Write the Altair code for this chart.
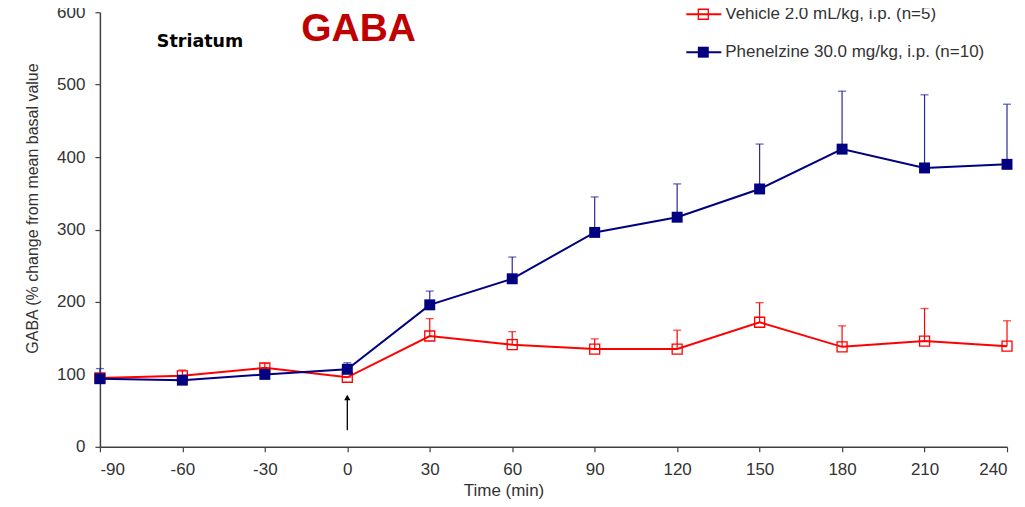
import altair as alt
import pandas as pd

# ---- data ----
times = [-90, -60, -30, 0, 30, 60, 90, 120, 150, 180, 210, 240]
vehicle_mean = [95, 98, 109, 96, 153, 141, 135, 135, 172, 138, 146, 139]
vehicle_upper = [95, 106, 115, 96, 177, 159, 149, 161, 199, 167, 191, 174]
phenelzine_mean = [94, 92, 100, 107, 196, 232, 296, 317, 356, 411, 385, 390]
phenelzine_upper = [108, 92, 100, 116, 215, 262, 345, 363, 418, 491, 486, 473]
series_names = ["Vehicle 2.0 mL/kg, i.p. (n=5)", "Phenelzine 30.0 mg/kg, i.p. (n=10)"]
x_ticks = [-90, -60, -30, 0, 30, 60, 90, 120, 150, 180, 210, 240]
y_ticks = [0, 100, 200, 300, 400, 500, 600]
arrow_time = [0]
arrow_from = [23]
arrow_to = [68]

RED = "#FF0000"
NAVY = "#000080"
FONT = "Liberation Sans"

veh = pd.DataFrame({"time": times, "mean": vehicle_mean, "upper": vehicle_upper})
phe = pd.DataFrame({"time": times, "mean": phenelzine_mean, "upper": phenelzine_upper})
arrow = pd.DataFrame({"time": arrow_time, "y0": arrow_from, "y1": arrow_to})
legend_df = pd.DataFrame({"series": series_names})
one = pd.DataFrame({"k": [0]})

x_enc = alt.X(
    "time:Q",
    scale=alt.Scale(domain=[-90, 240], nice=False, zero=False),
    axis=alt.Axis(
        values=x_ticks, title="Time (min)", grid=False,
        labelExpr="datum.value + ''",
        titleX=404, titleY=49, titleBaseline="alphabetic", titleFontSize=17,
    ),
)
y_enc = alt.Y(
    "mean:Q",
    scale=alt.Scale(domain=[0, 600], nice=False),
    axis=alt.Axis(
        values=y_ticks, title="GABA (% change from mean basal value", grid=False,
        labelExpr="datum.value + ''",
        titleX=-62, titleY=196, titleBaseline="alphabetic",
    ),
)


def series_layers(df, color, err_color, filled):
    base = alt.Chart(df)
    stem = base.mark_rule(color=err_color, strokeWidth=1.2).encode(
        x=x_enc, y=y_enc, y2="upper:Q")
    cap = base.mark_tick(orient="horizontal", size=8, thickness=1.3,
                         color=err_color).encode(x=x_enc, y="upper:Q")
    line = base.mark_line(color=color, strokeWidth=2).encode(x=x_enc, y=y_enc)
    if filled:
        pts = base.mark_point(shape="square", filled=True, fill=color,
                              color=color, size=120, opacity=1).encode(x=x_enc, y=y_enc)
    else:
        pts = base.mark_point(shape="square", filled=False, color=color,
                              strokeWidth=1.3, size=100, opacity=1).encode(x=x_enc, y=y_enc)
    return [stem, cap, line, pts]


layers = []
layers += series_layers(veh, RED, RED, False)
layers += series_layers(phe, NAVY, "#2A2A9A", True)

# arrow marking injection time
layers.append(alt.Chart(arrow).mark_rule(color="black", strokeWidth=1.3).encode(
    x="time:Q", y="y0:Q", y2="y1:Q"))
layers.append(alt.Chart(arrow).mark_point(shape="triangle-up", filled=True,
                                          color="black", size=40, opacity=1).encode(
    x="time:Q", y="y1:Q"))

# custom legend
leg_colors = [RED, NAVY]
leg_y = [2, 40]
for i, name in enumerate(series_names):
    d = legend_df[legend_df.series == name]
    layers.append(alt.Chart(d).mark_rule(color=leg_colors[i], strokeWidth=2).encode(
        x=alt.value(587), x2=alt.value(622), y=alt.value(leg_y[i])))
    if i == 0:
        layers.append(alt.Chart(d).mark_point(shape="square", filled=False, color=RED,
                                              strokeWidth=1.3, size=100, opacity=1).encode(
            x=alt.value(604), y=alt.value(leg_y[i])))
    else:
        layers.append(alt.Chart(d).mark_point(shape="square", filled=True, fill=NAVY,
                                              color=NAVY, size=120, opacity=1).encode(
            x=alt.value(604), y=alt.value(leg_y[i])))
    layers.append(alt.Chart(d).mark_text(align="left", baseline="middle", font=FONT,
                                         fontSize=17, color="#333333").encode(
        x=alt.value(626), y=alt.value(leg_y[i]), text="series:N"))

# titles inside plot
layers.append(alt.Chart(one).mark_text(text="GABA", font=FONT, fontSize=39,
                                       fontWeight="bold", color="#C00000",
                                       align="center", baseline="alphabetic").encode(
    x=alt.value(259), y=alt.value(29)))
layers.append(alt.Chart(one).mark_text(text="Striatum", font="DejaVu Sans", fontSize=17.5,
                                       fontWeight="bold", color="black",
                                       align="left", baseline="alphabetic").encode(
    x=alt.value(57), y=alt.value(35)))

chart = alt.layer(*layers).properties(
    width=908, height=435,
    autosize=alt.AutoSizeParams(type="none"),
    padding={"left": 92, "top": 4, "right": 10, "bottom": 52},
).configure_view(stroke=None).configure_axis(
    labelFont=FONT, labelFontSize=17, labelColor="#333333",
    titleFont=FONT, titleFontSize=16, titleColor="#333333", titleFontWeight="normal",
    domainColor="#404040", domainWidth=1.5, tickColor="#404040", tickWidth=1.2,
    tickSize=5, labelPadding=10,
)

chart.save("out.html", embed_options={"renderer": "svg", "actions": False})
